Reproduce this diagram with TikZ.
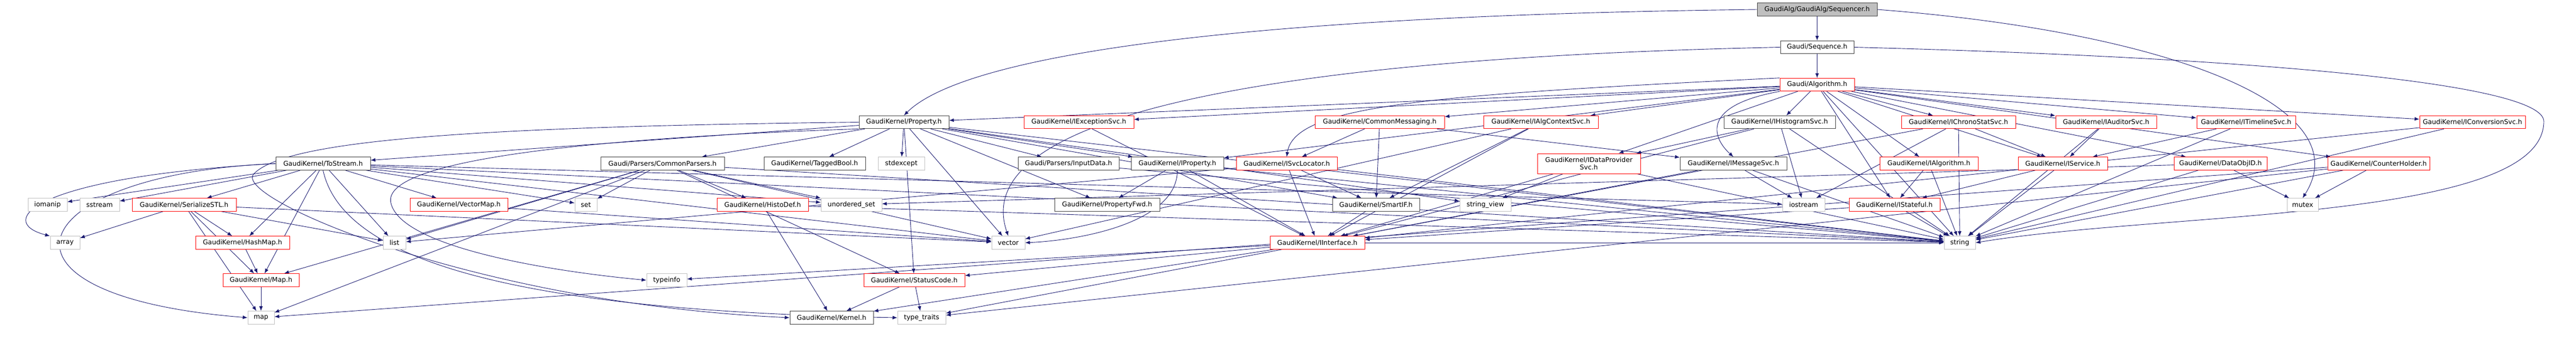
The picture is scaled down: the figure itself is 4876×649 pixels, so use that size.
\documentclass[tikz,border=0pt]{standalone}
\usepackage{fontspec}
\setmainfont{DejaVu Sans}
\usetikzlibrary{arrows.meta}
\definecolor{edgeblue}{RGB}{25,25,112}
\definecolor{redbd}{RGB}{255,0,0}
\definecolor{graybd}{RGB}{191,191,191}
\definecolor{darkbd}{RGB}{64,64,64}
\definecolor{seqfill}{RGB}{191,191,191}
\pgfdeclarelayer{background}
\pgfsetlayers{background,main}
\begin{document}
\begin{tikzpicture}[x=1pt,y=-1pt,
  box/.style={rectangle, inner sep=0pt, minimum height=24.5pt, line width=1pt, fill=white, font=\fontsize{12.5}{14}\selectfont, align=center},
  blk/.style={box, draw=darkbd},
  trunc/.style={box, draw=redbd},
  ext/.style={box, draw=graybd},
  dep/.style={draw=edgeblue, line width=0.9pt, -{Latex[length=9pt,width=7pt]}}
]
\useasboundingbox (0,0) rectangle (4876,649);
% row 1-3
\node[blk, fill=seqfill, minimum width=227pt] (seqr) at (3439.5,18) {GaudiAlg/GaudiAlg/Sequencer.h};
\node[blk, minimum width=139pt] (seq) at (3439.5,89.5) {Gaudi/Sequence.h};
\node[trunc, minimum width=141pt] (alg) at (3439.5,160.5) {Gaudi/Algorithm.h};
% row 4
\node[blk, minimum width=170pt] (prop) at (1711,231.5) {GaudiKernel/Property.h};
\node[trunc, minimum width=208pt] (excsvc) at (2042,231.5) {GaudiKernel/IExceptionSvc.h};
\node[trunc, minimum width=245pt] (cmsg) at (2611.5,231.5) {GaudiKernel/CommonMessaging.h};
\node[trunc, minimum width=217pt] (algctx) at (2916.5,231.5) {GaudiKernel/IAlgContextSvc.h};
\node[blk, minimum width=211pt] (histsvc) at (3368.5,231.5) {GaudiKernel/IHistogramSvc.h};
\node[trunc, minimum width=216pt] (chrono) at (3707,231.5) {GaudiKernel/IChronoStatSvc.h};
\node[trunc, minimum width=191pt] (auditor) at (3986.5,231.5) {GaudiKernel/IAuditorSvc.h};
\node[trunc, minimum width=187pt] (timeline) at (4251.5,231.5) {GaudiKernel/ITimelineSvc.h};
\node[trunc, minimum width=200pt] (convsvc) at (4680,231.5) {GaudiKernel/IConversionSvc.h};
% row 5
\node[blk, minimum width=179pt] (tostream) at (611.5,310) {GaudiKernel/ToStream.h};
\node[blk, minimum width=234pt] (cparsers) at (1254,310) {Gaudi/Parsers/CommonParsers.h};
\node[blk, minimum width=192pt] (tagged) at (1542,310) {GaudiKernel/TaggedBool.h};
\node[ext, minimum width=88pt] (stdexcept) at (1706,310) {stdexcept};
\node[blk, minimum width=191pt] (inputdata) at (2022.5,310) {Gaudi/Parsers/InputData.h};
\node[blk, minimum width=175pt] (iprop) at (2228.5,310) {GaudiKernel/IProperty.h};
\node[trunc, minimum width=191pt] (svcloc) at (2435.5,310) {GaudiKernel/ISvcLocator.h};
\node[trunc, minimum width=195pt, minimum height=38pt] (dataprov) at (3007.5,310) {GaudiKernel/IDataProvider\\Svc.h};
\node[blk, minimum width=202pt] (msgsvc) at (3281,310) {GaudiKernel/IMessageSvc.h};
\node[trunc, minimum width=186pt] (ialg) at (3651,310) {GaudiKernel/IAlgorithm.h};
\node[trunc, minimum width=169pt] (iservice) at (3904.5,310) {GaudiKernel/IService.h};
\node[trunc, minimum width=176pt] (dataobjid) at (4203,310) {GaudiKernel/DataObjID.h};
\node[trunc, minimum width=193pt] (counter) at (4502.5,310) {GaudiKernel/CounterHolder.h};
% row 6
\node[ext, minimum width=74pt] (iomanip) at (90,388) {iomanip};
\node[ext, minimum width=75pt] (sstream) at (188.5,388) {sstream};
\node[trunc, minimum width=197pt] (serialize) at (348.5,388) {GaudiKernel/SerializeSTL.h};
\node[trunc, minimum width=185pt] (vectormap) at (868.5,388) {GaudiKernel/VectorMap.h};
\node[ext, minimum width=42pt] (set) at (1109,388) {set};
\node[trunc, minimum width=173pt] (histodef) at (1443.5,388) {GaudiKernel/HistoDef.h};
\node[ext, minimum width=115pt] (uset) at (1611.5,388) {unordered\_set};
\node[blk, minimum width=199pt] (propfwd) at (2095.5,388) {GaudiKernel/PropertyFwd.h};
\node[blk, minimum width=165pt] (smartif) at (2604.5,388) {GaudiKernel/SmartIF.h};
\node[ext, minimum width=97pt] (sview) at (2811.5,388) {string\_view};
\node[ext, minimum width=80pt] (iostream) at (3414,388) {iostream};
\node[trunc, minimum width=172pt] (istateful) at (3586,388) {GaudiKernel/IStateful.h};
\node[ext, minimum width=59pt] (mutex) at (4358.5,388) {mutex};
% row 7
\node[ext, minimum width=56pt] (array) at (123,460) {array};
\node[trunc, minimum width=178pt] (hashmap) at (459,460) {GaudiKernel/HashMap.h};
\node[ext, minimum width=43pt] (list) at (746.5,460) {list};
\node[ext, minimum width=63pt] (vector) at (1908.5,460) {vector};
\node[trunc, minimum width=179pt] (iinterface) at (2493.5,460) {GaudiKernel/IInterface.h};
\node[ext, minimum width=59pt] (string) at (3709.5,460) {string};
% row 8
\node[trunc, minimum width=144pt] (mapH) at (494,531) {GaudiKernel/Map.h};
\node[ext, minimum width=76pt] (typeinfo) at (1262,531) {typeinfo};
\node[trunc, minimum width=191pt] (statuscode) at (1730.5,531) {GaudiKernel/StatusCode.h};
% row 9
\node[ext, minimum width=50pt] (map) at (494,602) {map};
\node[blk, minimum width=158pt] (kernel) at (1574,602) {GaudiKernel/Kernel.h};
\node[ext, minimum width=91pt] (typetraits) at (1744.5,602) {type\_traits};

\begin{pgfonlayer}{background}
% curved edges
\draw[dep] (seqr.west) .. controls (2300,30) and (1820,110) .. (prop.north);
\draw[dep] (seqr.east) .. controls (4100,60) and (4470,200) .. (mutex.north);
\draw[dep] (seq.west) .. controls (2400,110) and (1830,220) .. (vector.north);
\draw[dep] (seq.east) .. controls (4300,110) and (4815,160) .. (4815,230) .. controls (4815,420) and (4100,400) .. (string.east);
\draw[dep] (tostream.west) .. controls (40,330) and (-60,560) .. (map.west);
\draw[dep] (tostream.west) .. controls (60,335) and (-10,420) .. (array.north west);
\draw[dep] (iprop.south) .. controls (2229,420) and (2050,455) .. (vector.east);
\draw[dep] (alg.south west) .. controls (3220,200) and (3240,260) .. (msgsvc.north);
\draw[dep] (alg.north west) .. controls (2700,180) and (2450,200) .. (svcloc.north);
\draw[dep] (prop.west) .. controls (900,240) and (540,265) .. (480,330) .. controls (440,375) and (900,575) .. (kernel.west);
\draw[dep] (prop.south west) .. controls (1100,262) and (720,305) .. (740,385) .. controls (760,470) and (1050,515) .. (typeinfo.west);
\draw[dep] (tostream.south) .. controls (650,500) and (1000,590) .. (typetraits.west);

% straight edges
\foreach \a/\b in {seqr/seq, seq/alg,
  alg/prop, alg/excsvc, alg/cmsg, alg/algctx, alg/histsvc, alg/chrono, alg/auditor, alg/timeline, alg/convsvc,
  alg/iprop, alg/dataprov, alg/ialg, alg/iservice, alg/istateful, alg/dataobjid, alg/counter, alg/string,
  prop/tostream, prop/cparsers, prop/tagged, prop/stdexcept, prop/inputdata, prop/iprop, prop/propfwd, prop/smartif,
  prop/sview, prop/string, prop/statuscode, prop/vector,
  tostream/iomanip, tostream/sstream, tostream/serialize, tostream/hashmap, tostream/mapH, tostream/list,
  tostream/vectormap, tostream/set, tostream/uset, tostream/iostream, tostream/string, tostream/vector,
  serialize/array, serialize/hashmap, serialize/mapH, serialize/map, serialize/list, serialize/vector,
  vectormap/vector, hashmap/mapH, mapH/map,
  cparsers/histodef, cparsers/set, cparsers/list, cparsers/map, cparsers/mapH, cparsers/uset, cparsers/vector,
  cparsers/string, cparsers/statuscode,
  histodef/kernel, histodef/string, statuscode/kernel, statuscode/typetraits,
  iprop/propfwd, iprop/iinterface, iprop/string,
  excsvc/iinterface, inputdata/string,
  svcloc/smartif, svcloc/iinterface, svcloc/string, svcloc/list,
  cmsg/svcloc, cmsg/smartif, cmsg/msgsvc,
  algctx/smartif, algctx/iinterface, algctx/vector,
  dataprov/sview, dataprov/iinterface, dataprov/string, smartif/iinterface,
  histsvc/iostream, histsvc/dataprov, histsvc/string, histsvc/iinterface,
  msgsvc/iostream, msgsvc/iinterface, msgsvc/string,
  istateful/iinterface, istateful/string, ialg/istateful, ialg/string, iservice/istateful, iservice/string,
  chrono/iservice, chrono/string, chrono/iostream, chrono/iinterface,
  auditor/iservice, auditor/string, timeline/iservice, timeline/string,
  convsvc/iinterface, convsvc/string,
  dataobjid/mutex, dataobjid/string, dataobjid/uset,
  counter/mutex, counter/string, counter/typetraits, counter/map,
  iinterface/statuscode, iinterface/kernel, iinterface/typetraits, iinterface/typeinfo, iinterface/string}
  \draw[dep] (\a) -- (\b);
\end{pgfonlayer}
\end{tikzpicture}
\end{document}
